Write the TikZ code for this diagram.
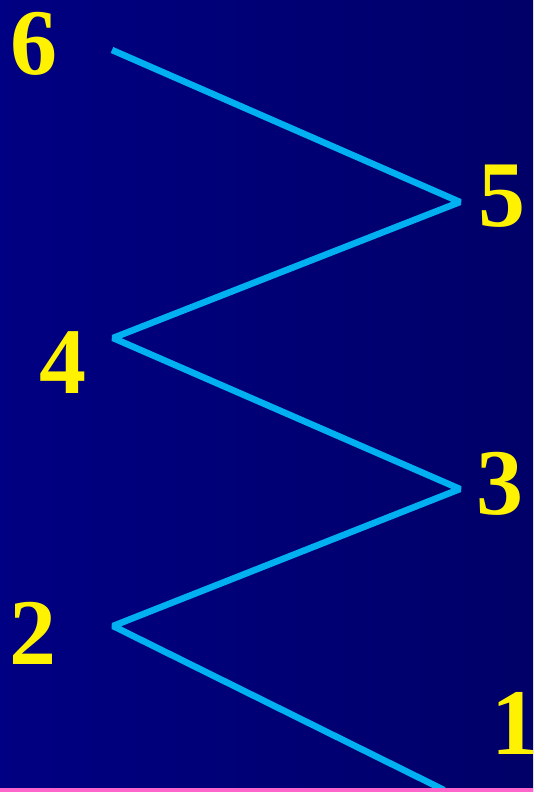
\documentclass[tikz,border=0pt]{standalone}
\usepackage{fontspec}
\setmainfont{Liberation Serif}
\definecolor{bgleft}{RGB}{0,0,130}
\definecolor{bgright}{RGB}{0,0,104}
\definecolor{zigblue}{RGB}{0,176,240}
\definecolor{barpink}{RGB}{255,102,204}
\begin{document}
\begin{tikzpicture}[x=1pt,y=-1pt,
  num/.style={text=yellow, font=\bfseries\fontsize{94}{94}\selectfont, inner sep=0pt, anchor=center},
  zig/.style={draw=zigblue, line width=6.5pt, line join=bevel}]
  \shade[left color=bgleft, right color=bgright] (0,0) rectangle (533,792);
  \useasboundingbox (0,0) rectangle (533,792);
  \coordinate (p6) at (112,50);
  \coordinate (p5) at (460,202);
  \coordinate (p4) at (113,338);
  \coordinate (p3) at (460,489);
  \coordinate (p2) at (113,626);
  \coordinate (p1) at (444,790);
  \draw[zig] (p6) -- (p5) -- (p4) -- (p3) -- (p2) -- (p1);
  \fill[barpink] (0,787.5) rectangle (533,792);
  \node[num] (n6) at (34,44) {6};
  \node[num] (n5) at (502,196) {5};
  \node[num] (n4) at (63,363) {4};
  \node[num] (n3) at (500,484) {3};
  \node[num] (n2) at (33,633) {2};
  \node[num] (n1) at (515,723) {1};
\end{tikzpicture}
\end{document}
